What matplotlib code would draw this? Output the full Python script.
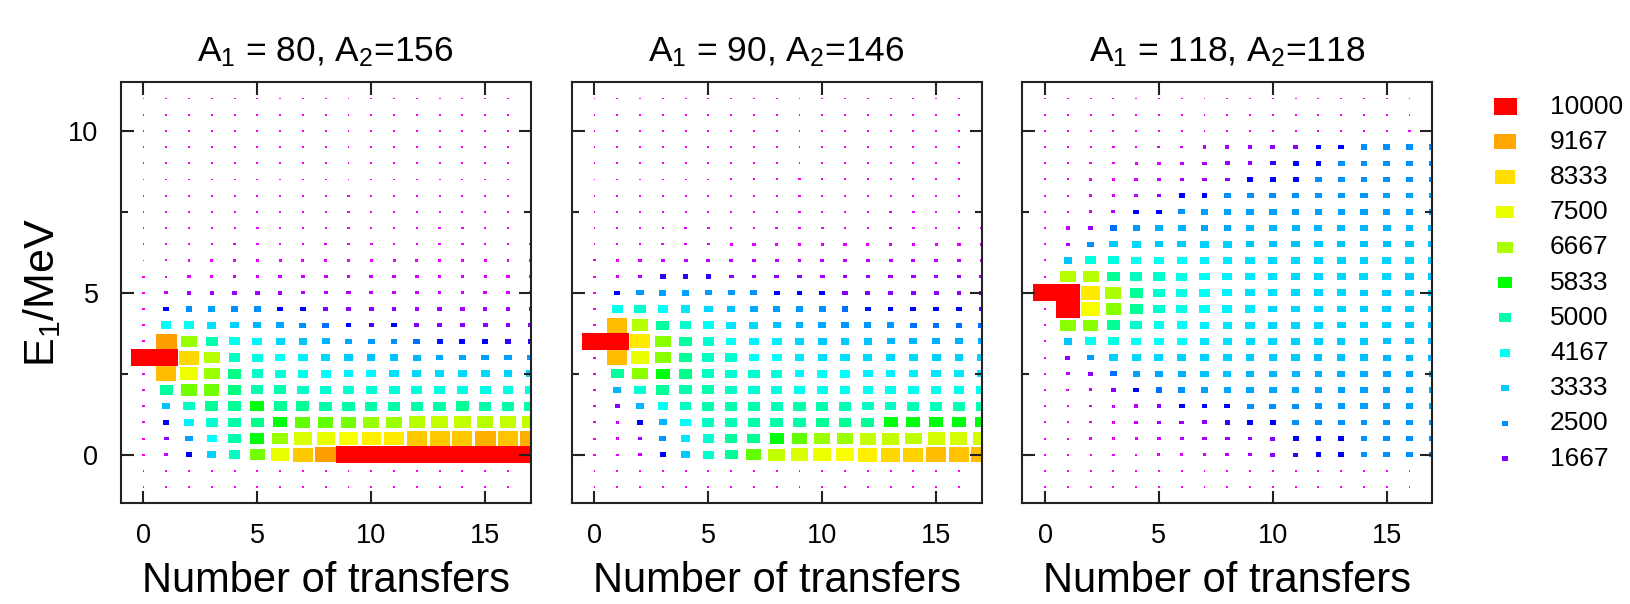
import numpy as np
import matplotlib
matplotlib.use("Agg")
import matplotlib.pyplot as plt
from matplotlib.colors import LinearSegmentedColormap
from matplotlib.patches import Rectangle
from matplotlib.collections import PatchCollection

plt.rcParams['font.family'] = ['Liberation Sans', 'DejaVu Sans']
plt.rcParams['mathtext.default'] = 'regular'

# ---------------- data ----------------
transfers = list(range(18))                      # x = 0 .. 17
energies = [11.0, 10.5, 10.0, 9.5, 9.0, 8.5, 8.0, 7.5, 7.0, 6.5, 6.0, 5.5, 5.0,
            4.5, 4.0, 3.5, 3.0, 2.5, 2.0, 1.5, 1.0, 0.5, 0.0, -0.5, -1.0]   # rows, top to bottom

titles = [r"$A_1$ = 80, $A_2$=156", r"$A_1$ = 90, $A_2$=146", r"$A_1$ = 118, $A_2$=118"]
legend_values = [10000, 9167, 8333, 7500, 6667, 5833, 5000, 4167, 3333, 2500, 1667]

# values in units of 100 (i.e. 100 -> 10000)
yield_80_156 = [
    [2, 2, 2, 2, 2, 2, 2, 2, 2, 2, 2, 2, 2, 2, 2, 2, 2, 2],
    [2, 2, 2, 2, 2, 2, 2, 2, 2, 2, 2, 2, 2, 2, 2, 2, 2, 2],
    [2, 2, 2, 2, 2, 2, 2, 2, 2, 2, 2, 2, 2, 2, 2, 2, 2, 2],
    [2, 2, 2, 2, 2, 2, 2, 2, 2, 2, 2, 2, 2, 2, 2, 2, 2, 2],
    [2, 2, 2, 2, 2, 2, 2, 2, 2, 2, 2, 2, 2, 2, 2, 2, 2, 2],
    [2, 2, 2, 2, 2, 2, 2, 2, 2, 2, 2, 2, 2, 2, 2, 2, 2, 2],
    [2, 2, 2, 2, 2, 3, 3, 3, 3, 3, 3, 3, 3, 3, 3, 3, 3, 3],
    [2, 2, 2, 3, 3, 3, 3, 3, 3, 3, 3, 3, 3, 3, 3, 3, 3, 3],
    [2, 2, 3, 3, 3, 4, 4, 4, 4, 4, 4, 4, 4, 4, 4, 4, 4, 4],
    [2, 3, 3, 4, 4, 5, 5, 5, 5, 5, 5, 5, 5, 5, 5, 5, 5, 5],
    [2, 3, 5, 6, 6, 7, 7, 7, 7, 7, 7, 7, 7, 6, 6, 6, 6, 6],
    [3, 4, 8, 8, 9, 9, 10, 10, 10, 10, 10, 10, 9, 9, 9, 8, 8, 8],
    [3, 10, 13, 13, 14, 14, 13, 12, 12, 12, 11, 10, 10, 10, 9, 9, 9, 9],
    [3, 20, 25, 27, 25, 25, 20, 20, 17, 16, 15, 15, 14, 14, 13, 13, 13, 13],
    [3, 40, 42, 36, 34, 30, 28, 25, 24, 20, 18, 20, 17, 16, 16, 15, 15, 15],
    [3, 92, 66, 50, 42, 39, 35, 32, 30, 28, 26, 25, 24, 21, 20, 20, 19, 19],
    [105, 105, 84, 68, 48, 43, 41, 38, 35, 33, 32, 32, 30, 28, 28, 27, 27, 26],
    [3, 88, 76, 66, 54, 47, 44, 42, 40, 38, 39, 36, 35, 35, 35, 35, 34, 34],
    [3, 52, 64, 64, 55, 50, 50, 48, 46, 46, 46, 44, 44, 44, 43, 43, 43, 43],
    [3, 32, 48, 53, 53, 58, 53, 53, 51, 51, 51, 51, 51, 51, 53, 51, 51, 51],
    [3, 20, 38, 46, 51, 54, 58, 63, 63, 64, 66, 66, 68, 70, 70, 68, 70, 70],
    [3, 15, 27, 40, 50, 58, 66, 73, 75, 78, 81, 82, 86, 86, 86, 90, 87, 90],
    [3, 10, 20, 34, 48, 64, 75, 86, 92, 105, 105, 105, 105, 105, 105, 105, 105, 105],
    [2, 2, 2, 2, 2, 2, 2, 2, 2, 2, 2, 2, 2, 2, 2, 2, 2, 2],
    [2, 2, 2, 2, 2, 2, 2, 2, 2, 2, 2, 2, 2, 2, 2, 2, 2, 2],
]

yield_90_146 = [
    [2, 2, 2, 2, 2, 2, 2, 2, 2, 2, 2, 2, 2, 2, 2, 2, 2, 2],
    [2, 2, 2, 2, 2, 2, 2, 2, 2, 2, 2, 2, 2, 2, 2, 2, 2, 2],
    [2, 2, 2, 2, 2, 2, 2, 2, 2, 2, 2, 2, 2, 2, 2, 2, 2, 2],
    [2, 2, 2, 2, 2, 2, 2, 2, 2, 2, 2, 2, 2, 2, 2, 2, 2, 2],
    [2, 2, 2, 2, 2, 2, 2, 2, 2, 2, 2, 2, 2, 2, 2, 2, 2, 2],
    [2, 2, 2, 2, 2, 2, 3, 3, 3, 3, 3, 3, 3, 3, 3, 3, 3, 3],
    [2, 2, 2, 3, 3, 3, 3, 3, 3, 3, 3, 3, 3, 3, 3, 3, 3, 3],
    [2, 2, 3, 3, 3, 3, 4, 4, 4, 4, 4, 4, 4, 4, 4, 4, 4, 4],
    [2, 3, 4, 5, 5, 5, 5, 5, 5, 5, 5, 5, 5, 5, 5, 5, 5, 5],
    [2, 4, 6, 7, 7, 7, 8, 8, 8, 8, 8, 8, 8, 8, 8, 8, 8, 8],
    [3, 5, 9, 10, 11, 11, 11, 11, 11, 11, 11, 11, 11, 11, 11, 11, 11, 11],
    [3, 9, 13, 19, 19, 19, 15, 15, 15, 15, 14, 14, 14, 14, 14, 14, 14, 14],
    [3, 20, 26, 27, 27, 26, 26, 25, 20, 20, 20, 17, 17, 16, 16, 15, 15, 15],
    [3, 42, 46, 40, 37, 35, 32, 28, 27, 26, 25, 24, 21, 20, 20, 20, 20, 18],
    [3, 88, 68, 52, 46, 41, 37, 35, 32, 29, 28, 26, 26, 26, 24, 24, 24, 24],
    [105, 105, 82, 65, 52, 46, 41, 38, 38, 35, 33, 33, 32, 30, 30, 29, 29, 29],
    [3, 88, 75, 65, 53, 48, 46, 41, 40, 37, 36, 36, 35, 35, 35, 34, 34, 34],
    [3, 52, 65, 58, 54, 48, 46, 46, 44, 39, 41, 40, 38, 38, 38, 37, 37, 37],
    [3, 30, 46, 53, 50, 50, 48, 45, 43, 42, 42, 42, 42, 42, 42, 42, 42, 42],
    [3, 16, 30, 41, 48, 50, 50, 50, 49, 50, 50, 49, 48, 48, 49, 49, 49, 49],
    [3, 9, 20, 30, 41, 48, 49, 51, 51, 51, 53, 53, 53, 58, 58, 58, 58, 58],
    [3, 8, 14, 26, 37, 46, 52, 53, 58, 63, 66, 66, 70, 70, 69, 72, 72, 72],
    [3, 6, 10, 20, 33, 46, 53, 63, 70, 73, 76, 78, 81, 84, 85, 88, 87, 88],
    [2, 2, 2, 2, 2, 2, 2, 2, 2, 2, 2, 2, 2, 2, 2, 2, 2, 2],
    [2, 2, 2, 2, 2, 2, 2, 2, 2, 2, 2, 2, 2, 2, 2, 2, 2, 2],
]

yield_118_118 = [
    [2, 2, 2, 2, 2, 2, 2, 2, 2, 2, 2, 2, 2, 2, 2, 2, 2, 2],
    [2, 2, 2, 2, 2, 2, 2, 2, 2, 2, 2, 2, 2, 2, 2, 2, 2, 2],
    [2, 2, 2, 2, 2, 2, 2, 2, 2, 2, 3, 3, 3, 3, 3, 3, 3, 3],
    [3, 3, 3, 4, 5, 7, 9, 11, 13, 14, 15, 16, 20, 20, 25, 25, 25, 25],
    [3, 3, 4, 5, 7, 9, 11, 13, 14, 15, 19, 20, 20, 25, 25, 25, 25, 25],
    [3, 3, 4, 6, 9, 11, 13, 14, 15, 20, 20, 20, 25, 25, 25, 25, 25, 25],
    [3, 4, 6, 9, 12, 14, 20, 20, 25, 25, 25, 25, 26, 26, 26, 27, 27, 27],
    [3, 5, 8, 12, 20, 20, 25, 27, 27, 27, 27, 27, 27, 27, 27, 27, 27, 27],
    [3, 11, 14, 24, 26, 29, 29, 28, 28, 30, 30, 30, 30, 30, 30, 30, 30, 30],
    [3, 12, 25, 33, 35, 33, 33, 34, 34, 32, 32, 32, 33, 32, 32, 32, 32, 32],
    [3, 32, 44, 44, 42, 41, 40, 38, 37, 36, 35, 35, 35, 34, 34, 34, 34, 34],
    [3, 68, 68, 53, 48, 46, 43, 41, 38, 37, 36, 35, 35, 35, 35, 35, 33, 33],
    [105, 105, 82, 67, 53, 46, 43, 41, 38, 36, 36, 35, 35, 35, 33, 33, 33, 33],
    [3, 105, 78, 65, 53, 46, 43, 41, 38, 37, 35, 35, 35, 34, 33, 33, 33, 33],
    [3, 65, 65, 53, 46, 42, 40, 38, 37, 36, 35, 35, 35, 34, 34, 34, 33, 33],
    [3, 32, 42, 43, 41, 40, 40, 37, 36, 35, 35, 34, 34, 33, 33, 31, 31, 31],
    [3, 16, 26, 34, 35, 35, 34, 34, 34, 33, 33, 33, 31, 31, 31, 30, 30, 30],
    [3, 10, 15, 24, 27, 28, 29, 32, 32, 30, 30, 30, 29, 29, 29, 28, 28, 28],
    [3, 6, 10, 15, 20, 24, 25, 27, 28, 28, 28, 28, 28, 27, 27, 27, 27, 27],
    [3, 4, 6, 9, 12, 15, 20, 20, 20, 25, 25, 25, 26, 26, 27, 27, 27, 27],
    [3, 3, 5, 7, 10, 13, 14, 16, 19, 20, 20, 25, 25, 25, 25, 26, 26, 26],
    [3, 3, 4, 5, 8, 10, 12, 13, 14, 15, 17, 20, 20, 20, 25, 25, 25, 25],
    [3, 3, 3, 4, 5, 7, 8, 10, 12, 13, 15, 19, 20, 20, 25, 25, 25, 25],
    [2, 2, 2, 2, 2, 2, 2, 2, 2, 2, 2, 2, 2, 2, 2, 2, 2, 2],
    [2, 2, 2, 2, 2, 2, 2, 2, 2, 2, 2, 2, 2, 2, 2, 2, 2, 2],
]

panels = [yield_80_156, yield_90_146, yield_118_118]

# ---------------- style ----------------
cmap = LinearSegmentedColormap.from_list("gp", [
    (0.00, "#FF00FF"), (0.08, "#E000FF"), (0.12, "#B000FF"), (0.15, "#9000FF"),
    (0.17, "#8000FF"), (0.20, "#0000FF"), (0.25, "#0090FF"), (0.30, "#00B8FF"),
    (0.333, "#00CCFF"), (0.40, "#00FFFF"), (0.4167, "#00FFEE"), (0.50, "#00FFB0"),
    (0.55, "#00FF80"), (0.5833, "#00FF00"), (0.6667, "#AAFF00"), (0.75, "#E8FF00"),
    (0.7917, "#FFFF00"), (0.8333, "#FFE000"), (0.875, "#FFC000"), (0.9167, "#FFA800"),
    (1.00, "#FF0000")])

VMAX = 10000.0
W, H = 1630, 604
fig = plt.figure(figsize=(W / 100, H / 100), dpi=100)

ax_left_px = [120.7, 571.7, 1022.3]
ax_w_px, ax_h_px = 410.0, 421.0
ax_bottom_px = 100.7
xlim = (-1, 17)
ylim = (-1.5, 11.5)
px_x = ax_w_px / (xlim[1] - xlim[0])
px_y = ax_h_px / (ylim[1] - ylim[0])


def box_px(value):
    f = value / VMAX
    return 1.5 + 21.5 * f, 1.5 + 15.0 * f


for i, grid in enumerate(panels):
    ax = fig.add_axes([ax_left_px[i] / W, ax_bottom_px / H, ax_w_px / W, ax_h_px / H])
    cells = []
    for r, e in enumerate(energies):
        for c, t in enumerate(transfers):
            cells.append((grid[r][c] * 100.0, t, e))
    cells.sort(key=lambda z: z[0])
    rects, cols = [], []
    for v, t, e in cells:
        wp, hp = box_px(v)
        w, h = wp / px_x, hp / px_y
        rects.append(Rectangle((t - w / 2, e - h / 2), w, h))
        cols.append(cmap(min(v / VMAX, 1.0)))
    pc = PatchCollection(rects, facecolors=cols, edgecolors='none', linewidths=0)
    ax.add_collection(pc)
    ax.set_xlim(*xlim)
    ax.set_ylim(*ylim)
    ax.set_xticks([0, 5, 10, 15])
    ax.set_yticks([0, 5, 10])
    ax.set_yticks([2.5, 7.5], minor=True)
    ax.tick_params(which='both', direction='in', top=True, right=True, width=1.5,
                   labelsize=19.5, color='#222222')
    ax.tick_params(which='major', length=9)
    ax.tick_params(which='minor', length=5)
    ax.tick_params(axis='x', pad=14)
    ax.tick_params(axis='y', pad=16)
    for s in ax.spines.values():
        s.set_linewidth(1.5)
        s.set_color('#222222')
    if i > 0:
        ax.set_yticklabels([])
    else:
        ax.set_ylabel(r"E$_1$/MeV", fontsize=31, labelpad=4)
    ax.set_xlabel("Number of transfers", fontsize=30, labelpad=9)
    ax.set_title(titles[i], fontsize=25.5, pad=15)

# ---------------- legend ----------------
lax = fig.add_axes([0, 0, 1, 1])
lax.set_xlim(0, W)
lax.set_ylim(H, 0)
lax.axis('off')
for k, v in enumerate(legend_values):
    yc = 106.5 + k * 35.2
    wp, hp = box_px(v)
    lax.add_patch(Rectangle((1505 - wp / 2, yc - hp / 2), wp, hp,
                            facecolor=cmap(min(v / VMAX, 1.0)), edgecolor='none'))
    lax.text(1550, yc, str(v), fontsize=19, va='center', ha='left')

fig.savefig("out.png", dpi=100)
